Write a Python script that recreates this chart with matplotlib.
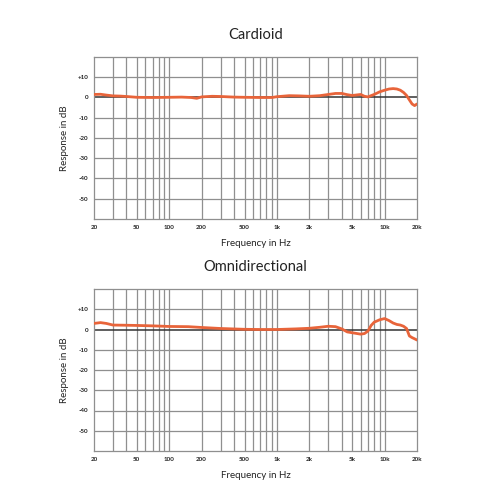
import numpy as np
import matplotlib
matplotlib.use('Agg')
import matplotlib.pyplot as plt

plt.rcParams['font.family'] = ['Lato', 'DejaVu Sans']

# readings
cardFreq = [20, 23, 26, 30, 35, 40, 50, 70, 100, 130, 160, 180, 200, 250, 300, 400, 500, 700, 900,
            1000, 1300, 1600, 2000, 2500, 3000, 3500, 4000, 4500, 5000, 6000, 6500, 7000, 8000, 9000,
            10000, 11000, 12000, 13000, 14000, 15000, 16000, 17000, 18000, 19000, 20000]
cardDb = [1.5, 1.6, 1.2, 0.8, 0.7, 0.5, 0.1, 0.0, 0.1, 0.2, 0.0, -0.4, 0.3, 0.6, 0.5, 0.2, 0.1, 0.0, 0.0,
          0.4, 0.9, 0.8, 0.6, 0.9, 1.5, 2.0, 2.0, 1.4, 1.0, 1.5, 0.6, 0.3, 1.5, 2.8,
          3.6, 4.2, 4.4, 4.2, 3.6, 2.5, 1.0, -1.2, -3.2, -4.0, -3.2]
omniFreq = [20, 23, 26, 30, 40, 50, 70, 100, 150, 200, 300, 500, 700, 1000, 1500, 2000, 2500,
            3000, 3500, 4000, 4500, 5000, 6000, 6500, 7000, 7500, 8000, 9000, 10000, 11000,
            12000, 13000, 14000, 15000, 16000, 17000, 18000, 19000, 20000]
omniDb = [3.0, 3.4, 3.0, 2.2, 2.1, 2.0, 1.8, 1.5, 1.4, 1.0, 0.5, 0.1, 0.0, 0.0, 0.3, 0.6, 1.1,
          1.6, 1.4, 0.3, -1.2, -1.6, -2.3, -2.0, -0.8, 2.0, 3.6, 4.8, 5.4, 4.4,
          3.2, 2.5, 2.2, 1.6, 0.5, -3.2, -4.0, -4.6, -5.2]

xTicks = [20, 50, 100, 200, 500, 1000, 2000, 5000, 10000, 20000]
xTickLabels = ['20', '50', '100', '200', '500', '1k', '2k', '5k', '10k', '20k']
yTicks = [10, 0, -10, -20, -30, -40, -50]
yTickLabels = ['+10', '0', '-10', '-20', '-30', '-40', '-50']
gridX = [30, 40, 50, 60, 70, 80, 90, 100, 200, 300, 400, 500, 600, 700, 800, 900, 1000,
         2000, 3000, 4000, 5000, 6000, 7000, 8000, 9000, 10000]
gridY = [10, -10, -20, -30, -40, -50]


def drawPanel(fig, rect, title, freq, db):
    ax = fig.add_axes(rect)
    ax.set_xscale('log')
    ax.set_xlim(20, 20000)
    ax.set_ylim(-60, 20)
    for g in gridX:
        ax.axvline(g, color='#8f8f8f', lw=0.9, zorder=1)
    for g in gridY:
        ax.axhline(g, color='#8f8f8f', lw=0.9, zorder=1)
    ax.axhline(0, color='#333333', lw=1.1, zorder=2)
    ax.plot(freq, db, color='#e8643a', lw=2.0, zorder=3, solid_capstyle='round')
    for s in ax.spines.values():
        s.set_color('#8f8f8f')
        s.set_linewidth(0.9)
    ax.set_xticks(xTicks)
    ax.set_xticklabels(xTickLabels)
    ax.set_xticks([], minor=True)
    ax.set_yticks(yTicks)
    ax.set_yticklabels(yTickLabels)
    ax.tick_params(length=0, labelsize=4.5, pad=4, colors='#222222')
    for lbl in ax.get_xticklabels() + ax.get_yticklabels():
        lbl.set_fontweight('bold')
    ax.set_xlabel('Frequency in Hz', fontsize=7, labelpad=7, color='#222222')
    ax.set_ylabel('Response in dB', fontsize=7, labelpad=6, color='#222222')
    ax.set_title(title, fontsize=10.5, pad=13, color='#222222')
    return ax


fig = plt.figure(figsize=(5, 5), dpi=100)
drawPanel(fig, [0.188, 0.562, 0.646, 0.324], 'Cardioid', cardFreq, cardDb)
drawPanel(fig, [0.188, 0.098, 0.646, 0.324], 'Omnidirectional', omniFreq, omniDb)
fig.savefig('out.png', dpi=100, facecolor='white')
